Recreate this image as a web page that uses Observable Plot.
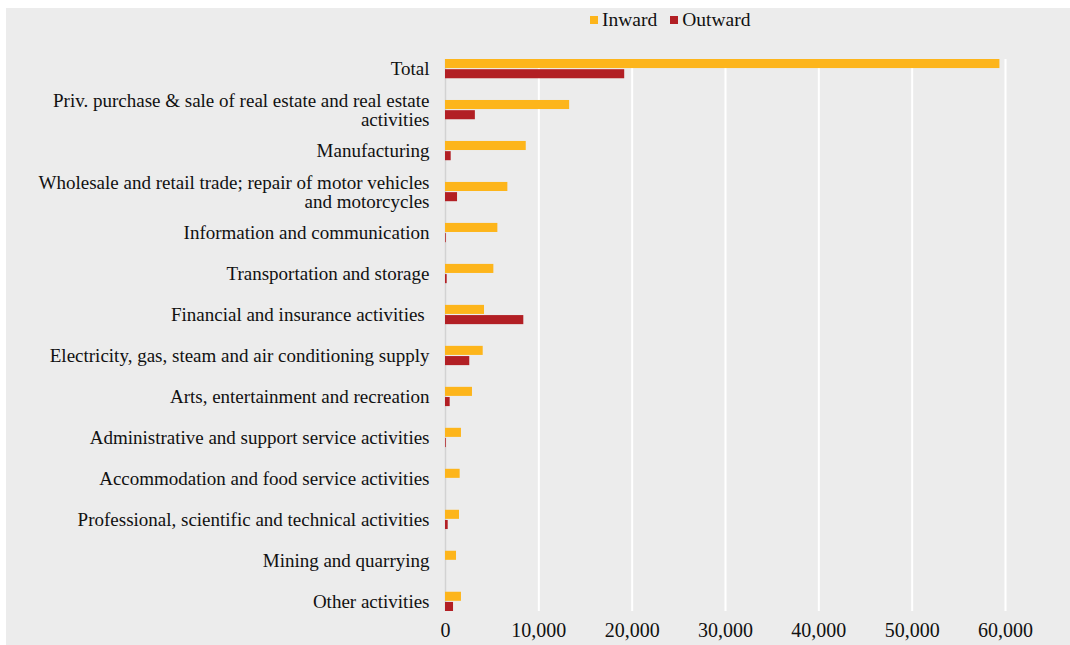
<!DOCTYPE html>
<html>
<head>
<meta charset="utf-8">
<script src="https://cdn.jsdelivr.net/npm/d3@7"></script>
<script src="https://cdn.jsdelivr.net/npm/@observablehq/plot@0.6"></script>
<style>
  html, body { margin: 0; padding: 0; background: #ffffff; }
  #panel {
    position: absolute; left: 6px; top: 8px; width: 1064px; height: 637px;
    background: #ececec; font-family: "Liberation Serif", "Times New Roman", serif;
  }
  #legend {
    height: 24px; display: flex; align-items: center; gap: 13px;
    padding-left: 584px; font-size: 19.5px; color: #111;
  }
  #legend .item { display: flex; align-items: center; gap: 4px; }
  #legend .sw { width: 8px; height: 8px; display: inline-block; }
  #chart svg { display: block; }
</style>
</head>
<body>
<div id="panel">
  <div id="legend"></div>
  <div id="chart"></div>
</div>
<script>
const categories = [
  "Total",
  "Priv. purchase & sale of real estate and real estate activities",
  "Manufacturing",
  "Wholesale and retail trade; repair of motor vehicles and motorcycles",
  "Information and communication",
  "Transportation and storage",
  "Financial and insurance activities",
  "Electricity, gas, steam and air conditioning supply",
  "Arts, entertainment and recreation",
  "Administrative and support service activities",
  "Accommodation and food service activities",
  "Professional, scientific and technical activities",
  "Mining and quarrying",
  "Other activities"
];
const categoryLabels = [
  "Total",
  "Priv. purchase & sale of real estate and real estate\nactivities",
  "Manufacturing",
  "Wholesale and retail trade; repair of motor vehicles\nand motorcycles",
  "Information and communication",
  "Transportation and storage",
  "Financial and insurance activities ",
  "Electricity, gas, steam and air conditioning supply",
  "Arts, entertainment and recreation",
  "Administrative and support service activities",
  "Accommodation and food service activities",
  "Professional, scientific and technical activities",
  "Mining and quarrying",
  "Other activities"
];
const inward  = [59400, 13300, 8650, 6680, 5610, 5180, 4180, 4040, 2890, 1710, 1570, 1500, 1180, 1710];
const outward = [19200, 3200, 610, 1290, 80, 180, 8390, 2600, 500, 80, 0, 290, 0, 860];
const series = ["Inward", "Outward"];
const seriesColors = ["#FDB51B", "#B21F24"];
const xTicks = [0, 10000, 20000, 30000, 40000, 50000, 60000];

const inwardData = categories.map((c, i) => ({category: c, value: inward[i]}));
const outwardData = categories.map((c, i) => ({category: c, value: outward[i]}));
const labelOf = new Map(categories.map((c, i) => [c, categoryLabels[i]]));

// Legend
const legend = document.getElementById("legend");
series.forEach((s, i) => {
  const item = document.createElement("span");
  item.className = "item";
  const sw = document.createElement("span");
  sw.className = "sw";
  sw.style.background = seriesColors[i];
  const t = document.createElement("span");
  t.textContent = s;
  item.append(sw, t);
  legend.append(item);
});

const half = 9.9; // half of the category band, splits it into two bars
const chart = Plot.plot({
  width: 1064,
  height: 613,
  marginLeft: 439,
  marginRight: 65,
  marginTop: 27,
  marginBottom: 34,
  style: {background: "transparent", fontFamily: "Liberation Serif, Times New Roman, serif", fontSize: "19px", color: "#111"},
  x: {domain: [0, 60000]},
  y: {domain: categories, paddingInner: 0.53, paddingOuter: 0, round: false},
  marks: [
    Plot.gridX(xTicks.slice(1), {stroke: "#ffffff", strokeWidth: 2, strokeOpacity: 1}),
    Plot.ruleX([0], {stroke: "#d2d2d2", strokeWidth: 1.5}),
    Plot.barX(inwardData, {x: "value", y: "category", fill: seriesColors[0], insetBottom: half + 0.3, insetTop: 0}),
    Plot.barX(outwardData, {x: "value", y: "category", fill: seriesColors[1], insetTop: half + 0.3, insetBottom: 0}),
    Plot.axisY({anchor: "left", tickSize: 0, tickPadding: 16, label: null, tickFormat: d => labelOf.get(d), fontSize: 19, lineHeight: 1}),
    Plot.axisX({ticks: xTicks, tickSize: 0, tickPadding: 11, label: null, tickFormat: d3.format(","), fontSize: 20})
  ]
});
document.getElementById("chart").append(chart);
</script>
</body>
</html>
